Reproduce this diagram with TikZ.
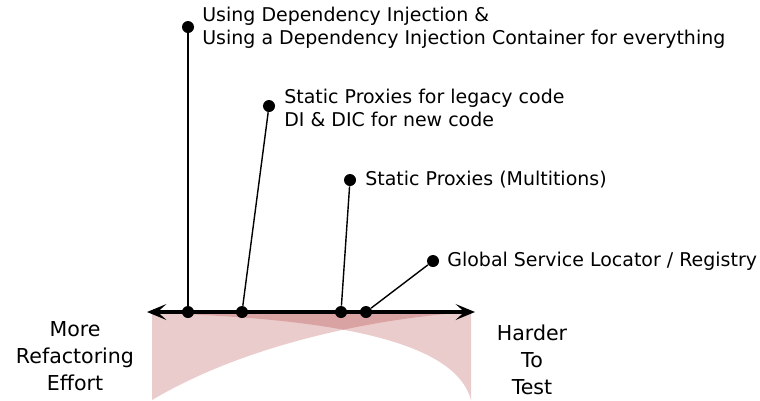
\documentclass[tikz,border=0pt]{standalone}
\usepackage{fontspec}
\setmainfont{DejaVu Sans}
\usetikzlibrary{arrows.meta}

\tikzset{
    dot/.style={circle, fill=black, inner sep=0pt, minimum size=12*0.02cm},
    lbl/.style={anchor=west, align=left, inner sep=0pt, font=\fontsize{10.8}{13}\selectfont},
    side/.style={align=center, inner sep=0pt, font=\fontsize{11.7}{15.3}\selectfont},
    wedge/.style={fill=red!60!black, fill opacity=0.2},
}

\begin{document}
\begin{tikzpicture}[x=0.02cm, y=-0.02cm]
    \useasboundingbox (0,0) rectangle (760,400);

    % Zones ombrees sous l'axe
    \fill[wedge] (152,312) -- (470,312) .. controls (380,318) and (250,342) .. (152,400) -- cycle;
    \fill[wedge] (471,312) -- (471,400) .. controls (455,340) and (330,318) .. (152,313) -- cycle;

    % Axe principal avec fleches aux deux bouts
    \coordinate (gauche) at (147,312);
    \coordinate (droite) at (475,312);
    \draw[line width=1.9pt, {Stealth[length=11pt,width=9pt,inset=5pt]}-{Stealth[length=11pt,width=9pt,inset=5pt]}] (gauche) -- (droite);

    % Points sur l'axe
    \node[dot] (a0) at (188,312) {};
    \node[dot] (b0) at (242,312) {};
    \node[dot] (c0) at (341,312) {};
    \node[dot] (d0) at (366,312) {};

    % Points en haut
    \node[dot] (a1) at (188,27) {};
    \node[dot] (b1) at (269,106) {};
    \node[dot] (c1) at (350,180) {};
    \node[dot] (d1) at (433,261) {};

    % Liaisons
    \draw[line width=0.8pt] (a0) -- (a1);
    \draw[line width=0.8pt] (b0) -- (b1);
    \draw[line width=0.8pt] (c0) -- (c1);
    \draw[line width=0.8pt] (d0) -- (d1);

    % Textes
    \node[lbl] (ta) at (202,28) {Using Dependency Injection \&\\Using a Dependency Injection Container for everything};
    \node[lbl] (tb) at (284,108) {Static Proxies for legacy code\\DI \& DIC for new code};
    \node[lbl] (tc) at (365,180) {Static Proxies (Multitions)};
    \node[lbl] (td) at (447,261) {Global Service Locator / Registry};

    \node[side] (gtxt) at (75,356) {More\\Refactoring\\Effort};
    \node[side] (dtxt) at (532,360) {Harder\\To\\Test};
\end{tikzpicture}
\end{document}
